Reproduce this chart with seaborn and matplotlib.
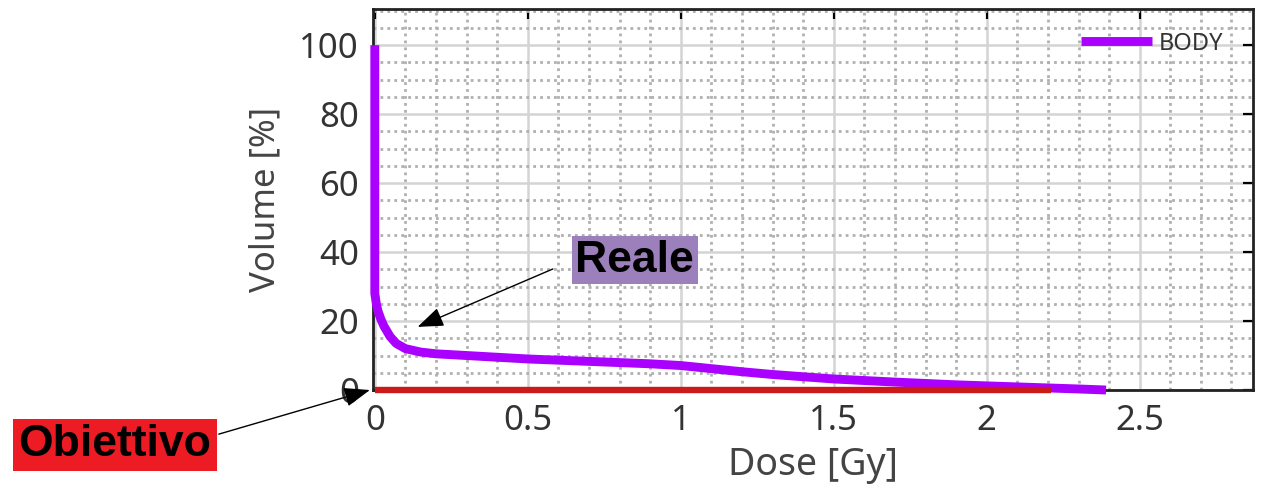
import numpy as np
import pandas as pd
import matplotlib.pyplot as plt
import seaborn as sns
from matplotlib.ticker import MultipleLocator


# DVH curve (dose in Gy, volume in %)
dose_body = [0, 0, 0.005, 0.01, 0.02, 0.03, 0.05, 0.07, 0.1, 0.15, 0.2, 0.3,
             0.5, 0.7, 0.9, 1.0, 1.1, 1.2, 1.3, 1.5, 1.7, 1.9, 2.0, 2.2, 2.3, 2.39]
volume_body = [100, 28, 25, 23, 20.5, 18.5, 15.5, 13.5, 12, 11, 10.5, 10,
               9, 8.3, 7.6, 7.1, 6.2, 5.3, 4.5, 3.2, 2.3, 1.5, 1.2, 0.6, 0.3, 0]

# objective line (target dose volume)
dose_goal = [0, 2.21]
volume_goal = [0, 0]

x_ticks = [0, 0.5, 1, 1.5, 2, 2.5]
x_tick_labels = ['0', '0.5', '1', '1.5', '2', '2.5']
y_ticks = [0, 20, 40, 60, 80, 100]

sns.set_style('white')
plt.rcParams['font.family'] = ['Noto Sans', 'DejaVu Sans']

body_df = pd.DataFrame({'dose': dose_body, 'volume': volume_body})
goal_df = pd.DataFrame({'dose': dose_goal, 'volume': volume_goal})

fig = plt.figure(figsize=(12.63, 4.92), dpi=100)
ax = fig.add_axes([0.2953, 0.2073, 0.6967, 0.7738])

# grid first so lines sit on top
ax.xaxis.set_minor_locator(MultipleLocator(0.1))
ax.yaxis.set_minor_locator(MultipleLocator(5))
ax.grid(which='major', color='#d4d4d4', linewidth=1.8)
ax.grid(which='minor', color='#b0b0b0', linewidth=2.0, linestyle=(0, (1, 1.5)))
ax.set_axisbelow(True)

sns.lineplot(data=body_df, x='dose', y='volume', estimator=None, sort=False,
             color='#aa00ff', linewidth=6.4, label='BODY', ax=ax)
sns.lineplot(data=goal_df, x='dose', y='volume', estimator=None, sort=False,
             color='#cc1a1a', linewidth=4.6, legend=False, ax=ax)
for line in ax.lines:
    line.set_clip_on(False)
    line.set_solid_capstyle('butt')
    line.set_zorder(4)

ax.set_xlim(-0.006, 2.87)
ax.set_ylim(0, 110.4)
ax.set_xticks(x_ticks)
ax.set_xticklabels(x_tick_labels)
ax.set_yticks(y_ticks)

ax.tick_params(which='major', direction='in', length=7, width=1.6, color='black',
               top=True, right=True, labelsize=25, labelcolor='#333333', pad=10)
ax.tick_params(which='minor', length=0)
for spine in ax.spines.values():
    spine.set_color('#222222')
    spine.set_linewidth(2)

ax.set_xlabel('Dose [Gy]', fontsize=27, color='#444444', labelpad=6)
ax.set_ylabel('Volume [%]', fontsize=25, color='#444444', labelpad=12)

leg = ax.legend(loc='upper right', frameon=False, fontsize=17, handlelength=3.0,
                handletextpad=0.3, borderaxespad=0.3, bbox_to_anchor=(0.985, 0.985))
for text in leg.get_texts():
    text.set_color('#333333')

# annotation for the real curve
ax.text(0.85, 37.7, 'Reale', fontsize=32, fontweight='bold', family='Liberation Sans',
        ha='center', va='center', color='black',
        bbox=dict(boxstyle='square,pad=0.08', facecolor='#9b80bc', edgecolor='none'))
ax.annotate('', xy=(0.14, 18.3), xytext=(0.582, 35.1),
            arrowprops=dict(arrowstyle='-|>,head_length=1.6,head_width=0.6',
                            color='black', lw=1.0, shrinkA=0, shrinkB=0))

# annotation for the objective
ax.text(-0.85, -15.9, 'Obiettivo', fontsize=32, fontweight='bold', family='Liberation Sans',
        ha='center', va='center', color='black', clip_on=False,
        bbox=dict(boxstyle='square,pad=0.12', facecolor='#ed1c24', edgecolor='none'))
ax.annotate('', xy=(-0.016, 0), xytext=(-0.51, -12.8), annotation_clip=False,
            arrowprops=dict(arrowstyle='-|>,head_length=1.6,head_width=0.6',
                            color='black', lw=1.0, shrinkA=0, shrinkB=0))

fig.savefig('out.png', dpi=100)
